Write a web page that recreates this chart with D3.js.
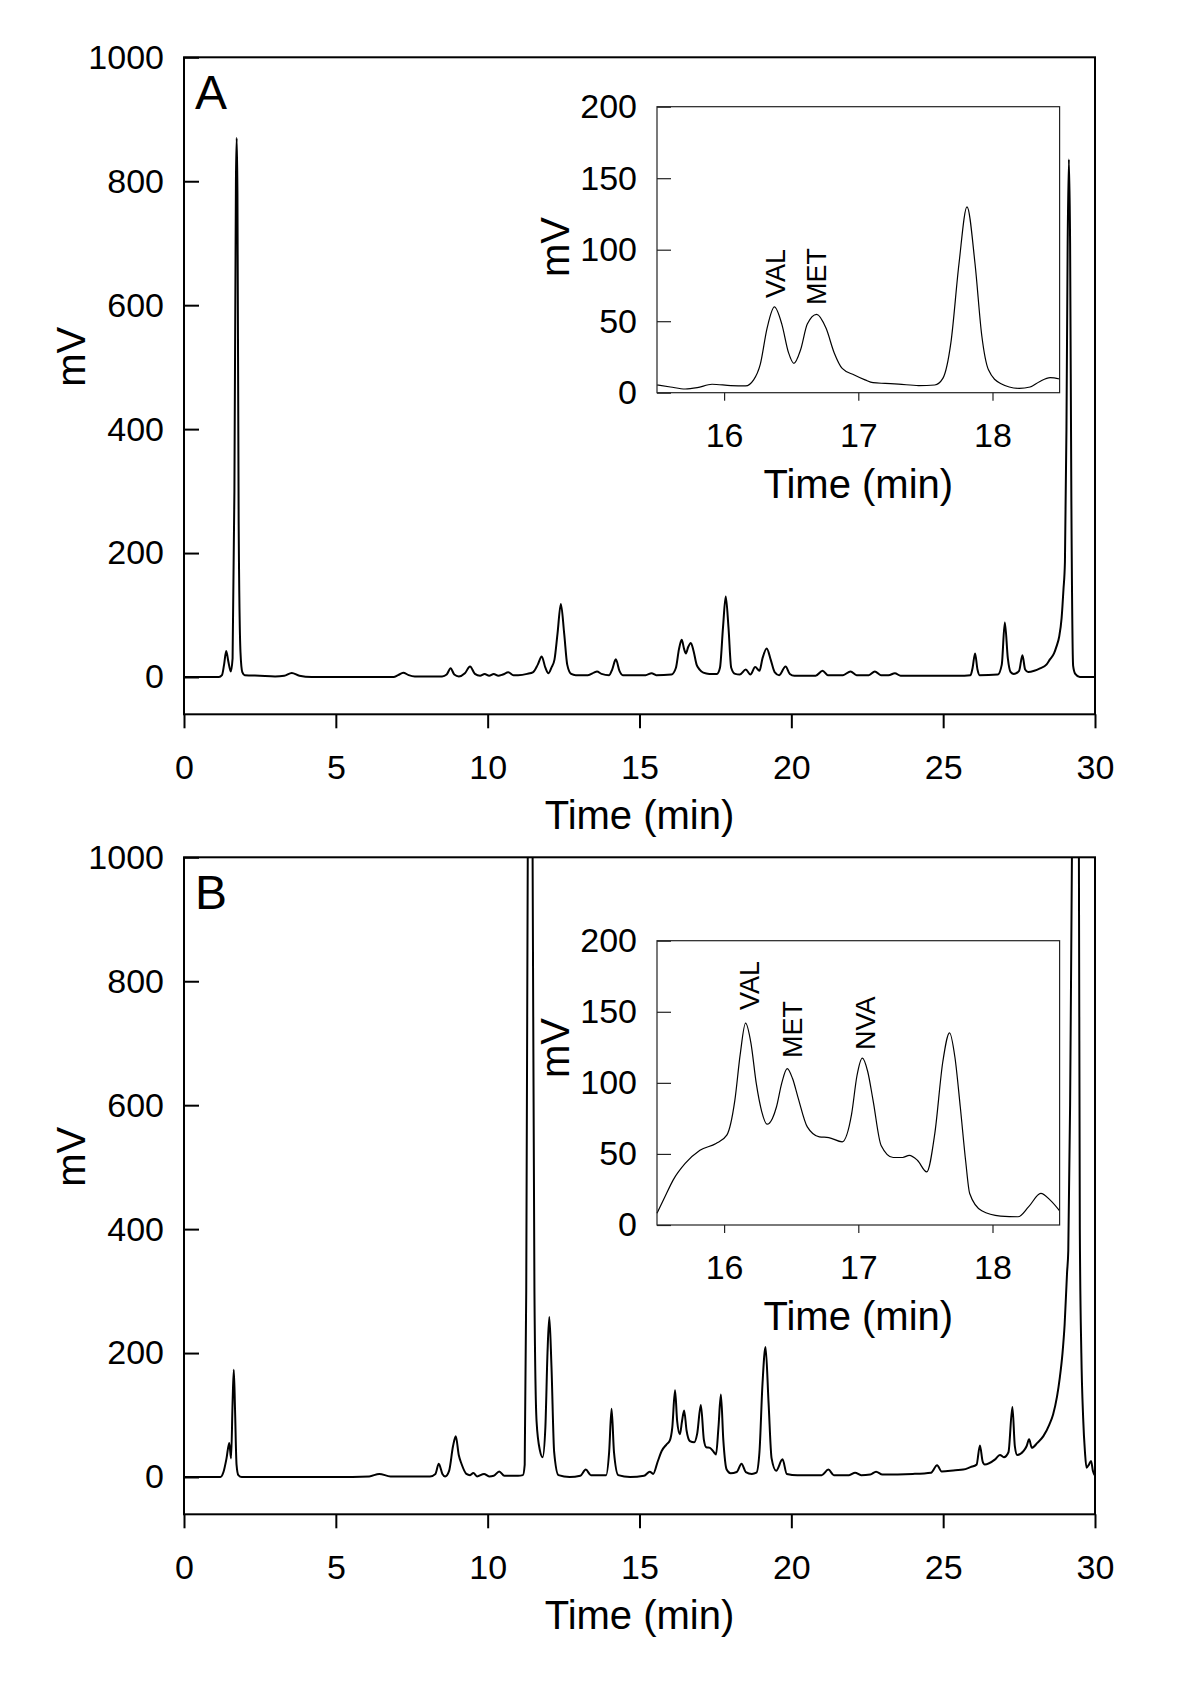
<!DOCTYPE html>
<html>
<head>
<meta charset="utf-8">
<script src="https://cdn.jsdelivr.net/npm/d3@7"></script>
<style>
  html, body { margin: 0; padding: 0; background: #fff; }
  svg text { font-family: Arial, "Liberation Sans", sans-serif; fill: #000; }
</style>
</head>
<body>
<svg id="chart" width="1200" height="1698"></svg>
<script>
// ---------------- DATA ----------------
const panelLabels = ["A", "B"];
const mainXTicks = [0, 5, 10, 15, 20, 25, 30];
const mainYTicks = [0, 200, 400, 600, 800, 1000];
const insetXTicks = [16, 17, 18];
const insetYTicks = [0, 50, 100, 150, 200];
const xTitle = "Time (min)";
const yTitle = "mV";

// Panel A full chromatogram [time (min), signal (mV)]
const traceA = [[0,0],[1.15,0],[1.25,3],[1.32,20],[1.39,42],[1.46,25],[1.54,9],[1.6,30],[1.66,300],[1.71,800],[1.735,870],[1.76,780],[1.8,250],[1.86,40],[1.92,8],[2.0,3],[2.5,2],[3.0,1],[3.3,2],[3.55,6.5],[3.8,2],[4.2,0],[5,0],[6,0],[6.9,0],[7.05,3],[7.22,7],[7.4,3],[7.6,1],[8.5,1],[8.65,4],[8.78,14],[8.9,4],[9.05,1],[9.25,6],[9.42,17],[9.58,5],[9.75,2],[9.9,5],[10.05,2],[10.2,5],[10.35,2],[10.5,4],[10.68,7.5],[10.85,3],[11.0,3],[11.3,5],[11.5,8],[11.65,20],[11.78,33],[11.9,15],[12.0,6],[12.1,15],[12.2,28],[12.3,70],[12.41,118],[12.52,70],[12.62,20],[12.75,5],[12.9,3],[13.3,3],[13.5,7],[13.6,9],[13.75,5],[14.0,3],[14.1,12],[14.22,28.5],[14.34,10],[14.45,3],[15.2,3],[15.4,6],[15.55,3],[16.05,4],[16.2,15],[16.3,45],[16.39,60],[16.47,45],[16.53,38],[16.6,48],[16.69,55],[16.78,42],[16.88,20],[16.98,12],[17.1,7],[17.3,5],[17.55,5],[17.65,15],[17.75,80],[17.84,130],[17.93,80],[18.02,15],[18.15,5],[18.3,4],[18.5,12],[18.65,4],[18.81,16],[18.95,10],[19.05,30],[19.19,46],[19.32,28],[19.45,8],[19.6,3],[19.81,17],[19.95,5],[20.1,2],[20.8,2],[21.03,10],[21.2,3],[21.7,3],[21.95,9],[22.15,3],[22.55,3],[22.75,9],[22.95,3],[23.2,3],[23.41,6],[23.6,2],[24.5,2],[25.5,2],[25.9,3],[25.97,15],[26.05,38],[26.13,12],[26.2,3],[26.8,4],[26.93,20],[27.03,88],[27.13,30],[27.22,8],[27.33,5],[27.5,10],[27.61,35],[27.7,12],[27.8,8],[28.0,10],[28.19,14],[28.4,20],[28.51,28],[28.65,38],[28.73,49],[28.82,65],[28.9,95],[28.96,140],[29.01,186],[29.06,400],[29.1,700],[29.14,835],[29.18,700],[29.22,300],[29.28,18],[29.35,5],[29.5,0],[30,0]];

// Panel A inset (15.5 - 18.5 min)
const insetA = [[15.5,5.4],[15.6,4],[15.71,2.6],[15.8,3.5],[15.91,5.9],[16.05,5],[16.16,4.8],[16.22,9],[16.27,20],[16.32,45],[16.375,60],[16.43,48],[16.48,28],[16.52,20.5],[16.57,30],[16.62,48],[16.69,54.8],[16.76,45],[16.82,28],[16.88,17],[16.97,12.4],[17.05,9],[17.11,7],[17.2,6.5],[17.3,6],[17.45,5],[17.57,5.4],[17.63,10],[17.69,35],[17.75,90],[17.81,130],[17.87,90],[17.92,40],[17.97,16],[18.06,6.5],[18.2,3],[18.28,4],[18.35,7.7],[18.43,10.5],[18.5,9.6]];
const insetALabels = ["VAL", "MET"];

// Panel B full chromatogram
const traceB = [[0,0],[1.2,0],[1.3,8],[1.4,30],[1.49,55],[1.55,30],[1.6,120],[1.64,173],[1.68,110],[1.73,20],[1.79,3],[1.9,0],[5,0],[6.1,1],[6.43,5],[6.8,1],[8.1,1],[8.28,5],[8.39,21.5],[8.51,5],[8.6,1],[8.73,10],[8.86,50],[8.95,65.6],[9.05,35],[9.14,21],[9.3,5],[9.42,3],[9.53,6.5],[9.65,1],[9.88,5],[10.05,1],[10.2,2],[10.38,9],[10.55,2],[11.0,2],[11.16,3],[11.22,20],[11.27,300],[11.32,1000],[11.4,1600],[11.48,1000],[11.54,300],[11.61,90],[11.72,43],[11.81,32],[11.9,80],[11.97,200],[12.03,258],[12.1,180],[12.19,40],[12.33,3],[12.7,0],[13.05,2],[13.23,12],[13.4,3],[13.9,3],[14.0,40],[14.08,110],[14.16,40],[14.3,3],[14.69,0],[15.15,2],[15.34,8.6],[15.45,5],[15.6,25],[15.73,42],[15.88,52],[16.0,59],[16.08,80],[16.17,139.8],[16.24,90],[16.33,69],[16.4,90],[16.47,107.5],[16.55,75],[16.66,58],[16.8,56],[16.9,70],[17.02,116],[17.12,60],[17.2,48],[17.32,47],[17.45,40],[17.52,36.5],[17.6,80],[17.68,133],[17.76,60],[17.87,12],[18.0,6],[18.2,8],[18.36,21.5],[18.5,8],[18.7,5],[18.85,7],[18.95,40],[19.05,150],[19.15,209.7],[19.25,120],[19.35,30],[19.5,10],[19.71,28.5],[19.85,5],[20.2,3],[21.0,3],[21.22,12],[21.4,3],[21.9,3],[22.1,7],[22.3,3],[22.6,4],[22.79,8.6],[23.0,4],[24.0,5],[24.6,7],[24.8,19],[24.95,9],[25.4,11],[25.66,12],[25.9,16],[26.1,20],[26.21,51],[26.3,25],[26.37,20],[26.7,28],[26.87,35.5],[27.0,32],[27.15,40],[27.28,113],[27.36,50],[27.44,35.5],[27.65,42],[27.75,50],[27.83,60.8],[27.92,47],[28.1,55],[28.3,66],[28.5,85],[28.62,101],[28.75,130],[28.84,160],[28.93,200],[29.0,246],[29.08,330],[29.12,365],[29.18,600],[29.24,1000],[29.35,1600],[29.47,1000],[29.5,400],[29.55,200],[29.61,95],[29.67,40],[29.72,15],[29.8,20],[29.87,26],[29.93,10],[30,2]];

// Panel B inset
const insetB = [[15.5,8.2],[15.56,20],[15.62,31.6],[15.71,43.3],[15.82,52.6],[15.94,57.3],[16.02,63.2],[16.08,87.7],[16.12,120],[16.16,142],[16.2,128],[16.24,99.4],[16.28,80],[16.32,70.9],[16.36,75],[16.39,83],[16.43,100],[16.47,110],[16.51,103],[16.55,90],[16.62,69],[16.71,62],[16.78,61.5],[16.88,58.5],[16.95,78],[16.99,105],[17.03,117.4],[17.07,108],[17.11,87.7],[17.17,56],[17.26,47.5],[17.33,47.5],[17.38,49],[17.44,45.6],[17.51,37.4],[17.57,64.3],[17.63,115],[17.68,135.2],[17.72,118],[17.76,83],[17.8,45],[17.83,22.2],[17.92,10],[18.06,6.3],[18.19,5.8],[18.27,12.9],[18.36,22.2],[18.43,17.5],[18.5,10]];
const insetBLabels = ["VAL", "MET", "NVA"];

// ---------------- LAYOUT ----------------
const svg = d3.select("#chart");
svg.append("rect").attr("width", 1200).attr("height", 1698).attr("fill", "#fff");

const panels = [
  { label: panelLabels[0], trace: traceA, inset: insetA, insetLabels: insetALabels,
    top: 57.3, zeroY: 677, bottom: 714.3, insetTop: 106.7, insetBottom: 392.7,
    labelPos: [[785, 298], [826, 305]], insetMvY: 247 },
  { label: panelLabels[1], trace: traceB, inset: insetB, insetLabels: insetBLabels,
    top: 857.3, zeroY: 1477, bottom: 1514.3, insetTop: 940.7, insetBottom: 1225,
    labelPos: [[758.5, 1010], [802, 1058], [875, 1050]], insetMvY: 1048 }
];

const L = 184, R = 1095;
const insetL = 657, insetR = 1059.6;
const fmt = d3.format("d");

panels.forEach((p, i) => {
  const g = svg.append("g");
  const x = d3.scaleLinear().domain([0, 30]).range([L, R]);
  const pxPer = (p.zeroY - p.top) / 1000;
  const yMin = -(p.bottom - p.zeroY) / pxPer;
  const y = d3.scaleLinear().domain([yMin, 1000]).range([p.bottom, p.top]);

  const clipId = "clip" + i;
  svg.append("clipPath").attr("id", clipId).append("rect")
    .attr("x", L).attr("y", p.top).attr("width", R - L).attr("height", p.bottom - p.top);

  const line = d3.line().x(d => x(d[0])).y(d => y(d[1])).curve(d3.curveMonotoneX);
  g.append("path").datum(p.trace).attr("d", line)
    .attr("clip-path", `url(#${clipId})`)
    .attr("fill", "none").attr("stroke", "#000").attr("stroke-width", 2).attr("stroke-linejoin", "round");

  const xAxis = d3.axisBottom(x).tickValues(mainXTicks).tickFormat(fmt).tickSize(14).tickSizeOuter(0).tickPadding(27);
  const gx = g.append("g").attr("transform", `translate(0,${p.bottom})`).call(xAxis);
  const yAxis = d3.axisLeft(y).tickValues(mainYTicks).tickFormat(fmt).tickSize(-15).tickSizeOuter(0).tickPadding(20);
  const gy = g.append("g").attr("transform", `translate(${L},0)`).call(yAxis);
  [gx, gy].forEach(a => {
    a.select(".domain").remove();
    a.selectAll(".tick line").attr("stroke", "#000").attr("stroke-width", 2);
    a.selectAll(".tick text").attr("font-size", 34).attr("font-family", "Arial, 'Liberation Sans', sans-serif").attr("fill", "#000");
  });

  g.append("rect").attr("x", L).attr("y", p.top).attr("width", R - L).attr("height", p.bottom - p.top)
    .attr("fill", "none").attr("stroke", "#000").attr("stroke-width", 2);

  g.append("text").attr("x", (L + R) / 2).attr("y", p.bottom + 115)
    .attr("text-anchor", "middle").attr("font-size", 40).text(xTitle);
  g.append("text").attr("transform", `translate(85,${p.top + 299.5}) rotate(-90)`)
    .attr("text-anchor", "middle").attr("font-size", 40).text(yTitle);
  g.append("text").attr("x", 195).attr("y", p.top + 52).attr("font-size", 48).text(p.label);

  // ---------- inset ----------
  const xi = d3.scaleLinear().domain([15.5, 18.5]).range([insetL, insetR]);
  const yi = d3.scaleLinear().domain([0, 200]).range([p.insetBottom, p.insetTop]);
  const gi = svg.append("g");
  gi.append("rect").attr("x", insetL).attr("y", p.insetTop).attr("width", insetR - insetL)
    .attr("height", p.insetBottom - p.insetTop).attr("fill", "#fff");
  const lineI = d3.line().x(d => xi(d[0])).y(d => yi(d[1])).curve(d3.curveMonotoneX);
  gi.append("path").datum(p.inset).attr("d", lineI)
    .attr("fill", "none").attr("stroke", "#000").attr("stroke-width", 1.2);

  const xiAxis = d3.axisBottom(xi).tickValues(insetXTicks).tickFormat(fmt).tickSize(8).tickSizeOuter(0).tickPadding(22);
  const gxi = gi.append("g").attr("transform", `translate(0,${p.insetBottom})`).call(xiAxis);
  const yiAxis = d3.axisLeft(yi).tickValues(insetYTicks).tickFormat(fmt).tickSize(-14).tickSizeOuter(0).tickPadding(20);
  const gyi = gi.append("g").attr("transform", `translate(${insetL},0)`).call(yiAxis);
  [gxi, gyi].forEach(a => {
    a.select(".domain").remove();
    a.selectAll(".tick line").attr("stroke", "#222").attr("stroke-width", 1.2);
    a.selectAll(".tick text").attr("font-size", 34).attr("font-family", "Arial, 'Liberation Sans', sans-serif").attr("fill", "#000");
  });
  gi.append("rect").attr("x", insetL).attr("y", p.insetTop).attr("width", insetR - insetL)
    .attr("height", p.insetBottom - p.insetTop).attr("fill", "none").attr("stroke", "#222").attr("stroke-width", 1.2);

  gi.append("text").attr("x", (insetL + insetR) / 2).attr("y", p.insetBottom + 105)
    .attr("text-anchor", "middle").attr("font-size", 40).text(xTitle);
  gi.append("text").attr("transform", `translate(569,${p.insetMvY}) rotate(-90)`)
    .attr("text-anchor", "middle").attr("font-size", 40).text(yTitle);

  p.insetLabels.forEach((lab, k) => {
    const pos = p.labelPos[k];
    gi.append("text").attr("transform", `translate(${pos[0]},${pos[1]}) rotate(-90)`)
      .attr("font-size", 27).text(lab);
  });
});
</script>
</body>
</html>
